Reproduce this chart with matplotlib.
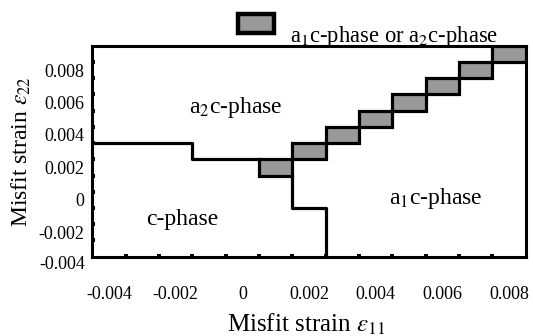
import matplotlib.pyplot as plt
from matplotlib.patches import Rectangle
import matplotlib.transforms as mtransforms

plt.rcParams['font.family'] = ['Liberation Serif', 'DejaVu Serif']
plt.rcParams['mathtext.fontset'] = 'stix'

# phase map on a 0.001 x 0.001 grid of misfit strains
cell = 0.001

# centres of the grey cells (a1c-phase or a2c-phase)
mixed_x = [0.001, 0.002, 0.003, 0.004, 0.005, 0.006, 0.007, 0.008]
mixed_y = [0.002, 0.003, 0.004, 0.005, 0.006, 0.007, 0.008, 0.009]

# c-phase / a2c-phase boundary
c_a2c_x = [-0.0045, -0.0015, -0.0015, 0.0005]
c_a2c_y = [0.0035, 0.0035, 0.0025, 0.0025]

# c-phase / a1c-phase boundary
c_a1c_x = [0.0015, 0.0015, 0.0025, 0.0025]
c_a1c_y = [0.0015, -0.0005, -0.0005, -0.0035]

x_ticks = [-0.004, -0.002, 0, 0.002, 0.004, 0.006, 0.008]
x_labels = ['-0.004', '-0.002', '0', '0.002', '0.004', '0.006', '0.008']
y_ticks = [-0.002, 0, 0.002, 0.004, 0.006, 0.008]
y_labels = ['-0.002', '0', '0.002', '0.004', '0.006', '0.008']
x_edges = [-0.0035 + 0.001 * i for i in range(12)]
y_edges = [-0.0025 + 0.001 * i for i in range(12)]

grey = '#999999'
lw = 2.3

fig = plt.figure(figsize=(5.33, 3.36), dpi=100)
ax = fig.add_axes([0.1735, 0.236, 0.8128, 0.628])

ax.plot(c_a2c_x, c_a2c_y, color='black', lw=lw, solid_capstyle='projecting')
ax.plot(c_a1c_x, c_a1c_y, color='black', lw=lw, solid_capstyle='projecting')

for x, y in zip(mixed_x, mixed_y):
    ax.add_patch(Rectangle((x - cell / 2, y - cell / 2), cell, cell,
                           facecolor=grey, edgecolor='black', lw=lw, zorder=3))

ax.set_xlim(-0.0045, 0.0085)
ax.set_ylim(-0.0035, 0.0095)

for s in ax.spines.values():
    s.set_linewidth(2.2)

ax.set_xticks(x_ticks)
ax.set_xticklabels(x_labels)
ax.set_yticks(y_ticks)
ax.set_yticklabels(y_labels)
ax.set_xticks(x_edges, minor=True)
ax.set_yticks(y_edges, minor=True)
ax.tick_params(which='major', length=0, labelsize=13)
ax.tick_params(axis='x', which='major', pad=21)
ax.tick_params(axis='y', which='major', pad=6)
ax.tick_params(which='minor', direction='in', length=2.5, width=2.8)

# the lowest y label sits below the frame
trans = mtransforms.blended_transform_factory(ax.transAxes, ax.transData)
ax.text(-0.017, -0.004, '-0.004', transform=trans, ha='right', va='center',
        fontsize=13, clip_on=False)

ax.text(-0.0002, 0.0057, r'a$_2$c-phase', ha='center', va='center', fontsize=17)
ax.text(-0.0018, -0.0012, 'c-phase', ha='center', va='center', fontsize=17)
ax.text(0.0058, 0.0001, r'a$_1$c-phase', ha='center', va='center', fontsize=17)

# legend above the frame
fig.patches.append(Rectangle((0.446, 0.903), 0.068, 0.055, transform=fig.transFigure,
                             facecolor=grey, edgecolor='black', lw=3.2, figure=fig))
fig.text(0.544, 0.876, r'a$_1$c-phase or a$_2$c-phase', ha='left', va='baseline',
         fontsize=16.3)

fig.text(0.575, 0.012, r'Misfit strain $\varepsilon_{11}$', ha='center', va='baseline',
         fontsize=18)
fig.text(0.04, 0.55, r'Misfit strain $\varepsilon_{22}$', ha='center', va='center',
         rotation=90, fontsize=17)

fig.savefig('out.png', dpi=100)
